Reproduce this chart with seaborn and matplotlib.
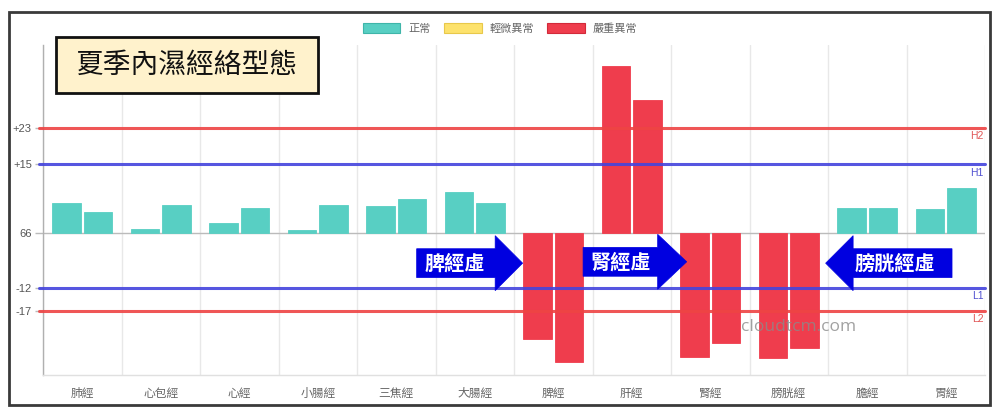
import numpy as np
import pandas as pd
import matplotlib
matplotlib.use("Agg")
import matplotlib.pyplot as plt
import matplotlib.transforms as mtransforms
import seaborn as sns
from matplotlib.patches import Patch, Rectangle, Polygon

# ---------------- data ----------------
categories = ["肺經", "心包經", "心經", "小腸經", "三焦經", "大腸經",
              "脾經", "肝經", "腎經", "膀胱經", "膽經", "胃經"]
left_values = [6.5, 0.8, 2.2, 0.7, 5.9, 8.9, -23.1, 36.4, -27.1, -27.3, 5.5, 5.2]
right_values = [4.6, 6.2, 5.5, 6.2, 7.4, 6.6, -28.1, 29.0, -24.1, -25.0, 5.5, 9.8]
left_status = ["正常"] * 6 + ["嚴重異常"] * 4 + ["正常"] * 2
right_status = ["正常"] * 6 + ["嚴重異常"] * 4 + ["正常"] * 2
status_names = ["正常", "輕微異常", "嚴重異常"]
ref_values = [23, 15, -12, -17]
ref_labels = ["H2", "H1", "L1", "L2"]
ytick_values = [23, 15, 0, -12, -17]
ytick_labels = ["+23", "+15", "66", "-12", "-17"]
title_text = "夏季內濕經絡型態"
arrow_texts = ["脾經虛", "腎經虛", "膀胱經虛"]
watermark = "cloudtcm.com"

# ---------------- style ----------------
sns.set_theme(style="white")
plt.rcParams["font.family"] = ["Liberation Sans", "Noto Sans CJK TC", "DejaVu Sans"]

status_colors = {"正常": "#58CFC3", "輕微異常": "#FDE26C", "嚴重異常": "#EF3D4D"}
status_edges = {"正常": "#3FB5A9", "輕微異常": "#E8C84A", "嚴重異常": "#D22A3A"}
ref_colors = ["#EE4444", "#4444DD", "#4444DD", "#EE4444"]
ref_text_colors = ["#E05555", "#5050D0", "#5050D0", "#E05555"]

df = pd.DataFrame({
    "category": categories * 2,
    "value": left_values + right_values,
    "side": ["a"] * len(categories) + ["b"] * len(categories),
})

fig = plt.figure(figsize=(10, 4.17), dpi=100)
W, H = 1000, 417
ax = fig.add_axes([43 / W, 1 - 375 / H, (985 - 43) / W, (375 - 45) / H])

sns.barplot(data=df, x="category", y="value", hue="side", order=categories,
            width=0.8, gap=0.1, dodge=True, legend=False, ax=ax,
            palette=["#58CFC3", "#58CFC3"], saturation=1, zorder=2)

# recolor bars by status
for p in ax.patches:
    cx = p.get_x() + p.get_width() / 2
    idx = int(round(cx))
    side = 0 if cx < idx else 1
    st = (left_status if side == 0 else right_status)[idx]
    p.set_facecolor(status_colors[st])
    p.set_edgecolor(status_colors[st])
    p.set_linewidth(0.6)

ax.set_xlim(-0.5, len(categories) - 0.5)
ax.set_ylim(-31, 41)

# axes styling
for s in ["top", "right"]:
    ax.spines[s].set_visible(False)
ax.spines["left"].set_color("#B0B0B0")
ax.spines["left"].set_linewidth(1.0)
ax.spines["bottom"].set_color("#E0E0E0")
ax.spines["bottom"].set_linewidth(1.0)

ax.set_xticks(range(len(categories)))
ax.set_xticklabels(categories, fontsize=8.5, color="#666666")
ax.set_xticks(np.arange(-0.5, len(categories), 1.0), minor=True)
ax.tick_params(axis="x", which="major", length=0, pad=9)
ax.tick_params(axis="x", which="minor", length=7.5, color="#E3E3E3", width=1)
ax.grid(axis="x", which="minor", color="#E8E8E8", linewidth=1, zorder=0)
ax.grid(axis="x", which="major", visible=False)
ax.grid(axis="y", visible=False)

ax.set_yticks(ytick_values)
ax.set_yticklabels(ytick_labels, fontsize=8, color="#555555")
ax.tick_params(axis="y", length=6, color="#BBBBBB", width=1, pad=2, left=True)
ax.set_xlabel("")
ax.set_ylabel("")

# zero baseline
ax.axhline(0, color="#BBBBBB", linewidth=1, zorder=1)

# reference lines
offset = mtransforms.ScaledTranslation(-1 / 72, -2.5 / 72, fig.dpi_scale_trans)
for v, lab, c, tc in zip(ref_values, ref_labels, ref_colors, ref_text_colors):
    ax.axhline(v, xmin=-0.0045, xmax=1.0, color=c, linewidth=2.2, alpha=0.9,
               zorder=3, clip_on=False)
    ax.text(1.0, v, lab, transform=ax.get_yaxis_transform() + offset,
            ha="right", va="top", fontsize=7.5, color=tc, zorder=4)

# arrows (positions in data coordinates)
def draw_arrow(x_tail, x_base, x_tip, yc, body_h, head_h, text, text_x, color="#0000E0"):
    pts = [(x_tail, yc + body_h / 2), (x_base, yc + body_h / 2), (x_base, yc + head_h / 2),
           (x_tip, yc), (x_base, yc - head_h / 2), (x_base, yc - body_h / 2),
           (x_tail, yc - body_h / 2)]
    ax.add_patch(Polygon(pts, closed=True, facecolor=color, edgecolor=color,
                         linewidth=0.5, zorder=5))
    ax.text(text_x, yc, text, ha="center", va="center", color="white",
            fontsize=14.5, fontweight="bold", family=["Noto Sans CJK TC"], zorder=6)

draw_arrow(4.26, 5.26, 5.61, -6.6, 6.3, 12.0, arrow_texts[0], 4.74)
draw_arrow(6.38, 7.33, 7.70, -6.3, 6.3, 12.0, arrow_texts[1], 6.86)
draw_arrow(11.08, 9.82, 9.47, -6.6, 6.3, 12.0, arrow_texts[2], 10.35)

# watermark
ax.text(9.12, -20.6, watermark, ha="center", va="center", fontsize=12.5,
        color="#8A8A8A", alpha=0.8, family=["Open Sans", "DejaVu Sans"], zorder=7)

# legend
handles = [Patch(facecolor=status_colors[s], edgecolor=status_edges[s], linewidth=0.8, label=s)
           for s in status_names]
fig.legend(handles=handles, loc="center", bbox_to_anchor=(0.5, 1 - 28.5 / H), ncol=3,
           frameon=False, labelcolor="#666666", handlelength=3.4,
           handleheight=0.95, handletextpad=0.7, columnspacing=1.2,
           prop={"family": ["Noto Sans CJK TC"], "size": 8})

# title box
fig.add_artist(Rectangle((56 / W, 1 - 93 / H), (318 - 56) / W, (93 - 37) / H,
                         transform=fig.transFigure, facecolor="#FFF2CC",
                         edgecolor="#111111", linewidth=2, zorder=10))
fig.text((56 + 318) / 2 / W, 1 - 65 / H, title_text, ha="center", va="center",
         fontsize=20, color="#111111", family=["Noto Sans CJK TC"], zorder=11)

# outer frame
fig.add_artist(Rectangle((9 / W, 1 - 405 / H), (990 - 9) / W, (405 - 12) / H,
                         transform=fig.transFigure, facecolor="none",
                         edgecolor="#3A3A3A", linewidth=2, zorder=12))

fig.savefig("out.png", dpi=100)
